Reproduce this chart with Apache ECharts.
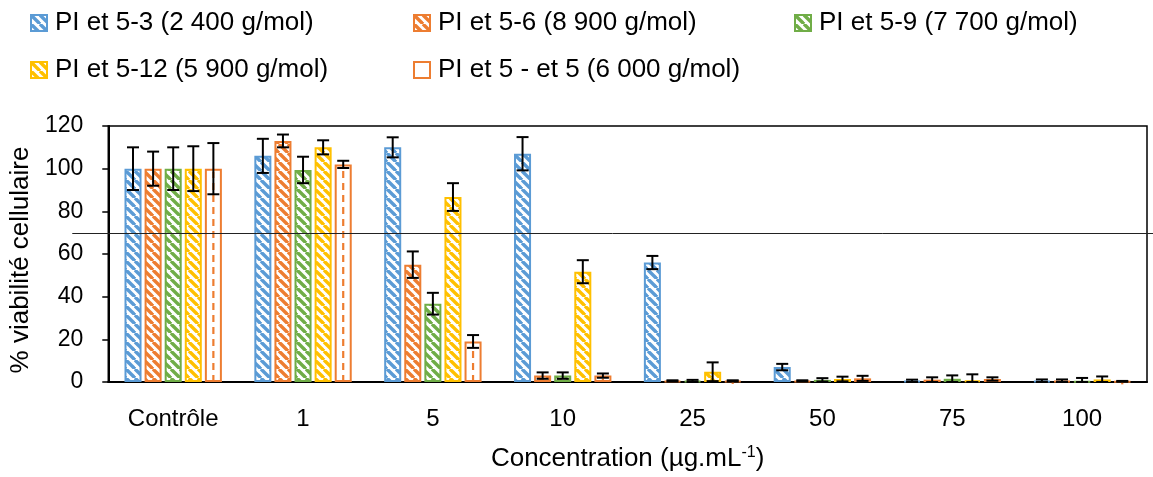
<!DOCTYPE html>
<html><head><meta charset="utf-8">
<script src="https://cdn.jsdelivr.net/npm/echarts@6/dist/echarts.min.js"></script>
<style>html,body{margin:0;padding:0;background:#fff}#c{width:1153px;height:477px}</style>
</head><body><div id="c"></div>
<script>
const categories = ['Contrôle', '1', '5', '10', '25', '50', '75', '100'];
const seriesNames = ['PI et 5-3 (2 400 g/mol)', 'PI et 5-6 (8 900 g/mol)', 'PI et 5-9 (7 700 g/mol)', 'PI et 5-12 (5 900 g/mol)', 'PI et 5 - et 5 (6 000 g/mol)'];
const v53 = [100, 106, 110, 107, 56, 7, 0.5, 0.5];
const e53 = [10, 8, 4.7, 7.8, 3.1, 1.5, 0.6, 0.7];
const v56 = [100, 113, 55, 3, 0.5, 0.5, 1.1, 0.5];
const e56 = [8, 3, 6.2, 1.5, 0.3, 0.3, 1.1, 0.7];
const v59 = [100, 99.4, 36.7, 3, 0.5, 1, 1.5, 0.3];
const e59 = [10, 6.2, 5.1, 1.5, 0.5, 0.8, 1.6, 1.6];
const v512 = [100, 110, 86.7, 51.7, 4.8, 1.4, 0.8, 1.2];
const e512 = [10.5, 3.3, 6.5, 5.4, 4.4, 1.1, 2.8, 1.4];
const v55 = [100, 102, 19, 3, 0.5, 1.7, 1.4, 0.3];
const e55 = [12, 1.7, 3, 1, 0.3, 1.2, 0.8, 0.2];
const threshold = [70];
const yTicks = [0, 20, 40, 60, 80, 100, 120];

const values = [v53, v56, v59, v512, v55];
const errors = [e53, e56, e59, e512, e55];
const colors = ['#5B9BD5', '#ED7D31', '#70AD47', '#FFC000', '#ED7D31'];
const FONT = 'Liberation Sans';
const CAT_GAP = 0.25, BAR_GAP = 0.18, N = 5;

function stripe(color) {
  const s = 9;
  const c = document.createElement('canvas');
  c.width = s; c.height = s;
  const g = c.getContext('2d');
  g.fillStyle = '#fff'; g.fillRect(0, 0, s, s);
  g.strokeStyle = color; g.lineWidth = 3.4;
  for (const x0 of [-s, 0, s]) {
    g.beginPath(); g.moveTo(x0, 0); g.lineTo(x0 + s, s); g.stroke();
  }
  return { image: c, repeat: 'repeat' };
}

const series = [];
values.forEach((vals, k) => {
  const dashed = k === 4;
  series.push({
    type: 'bar', name: seriesNames[k], data: vals,
    barCategoryGap: (CAT_GAP * 100) + '%', barGap: (BAR_GAP * 100) + '%',
    itemStyle: { color: dashed ? '#fff' : stripe(colors[k]), borderColor: colors[k], borderWidth: 2 },
    emphasis: { disabled: true }, z: 2
  });
});
values.forEach((vals, k) => {
  series.push({
    type: 'custom', data: vals.map((v, i) => [i, v, errors[k][i]]),
    encode: { x: 0, y: 1 }, z: 5, silent: true,
    renderItem: function (params, api) {
      const ci = api.value(0), v = api.value(1), e = api.value(2);
      const band = api.size([1, 0])[0];
      const groupW = band * (1 - CAT_GAP);
      const barW = groupW / (N + (N - 1) * BAR_GAP);
      const cx = api.coord([ci, 0])[0] - groupW / 2 + barW / 2 + k * barW * (1 + BAR_GAP);
      const yTop = api.coord([ci, v + e])[1];
      const yBot = api.coord([ci, Math.max(0, v - e)])[1];
      const cap = 6;
      const st = { stroke: '#000', lineWidth: 2 };
      const children = [];
      if (k === 4) {
        children.push({ type: 'line', shape: { x1: cx, y1: api.coord([ci, 0])[1], x2: cx, y2: api.coord([ci, v])[1] + 3 },
          style: { stroke: colors[4], lineWidth: 2.2, lineDash: [7, 5] } });
      }
      children.push({ type: 'line', shape: { x1: cx, y1: yTop, x2: cx, y2: yBot }, style: st });
      children.push({ type: 'line', shape: { x1: cx - cap, y1: yTop, x2: cx + cap, y2: yTop }, style: st });
      children.push({ type: 'line', shape: { x1: cx - cap, y1: yBot, x2: cx + cap, y2: yBot }, style: st });
      return { type: 'group', children: children };
    }
  });
});
series.push({
  type: 'custom', data: threshold.map(t => [0, t]), encode: { x: 0, y: 1 }, clip: false, z: 6, silent: true,
  renderItem: function (params, api) {
    const y = Math.round(api.coord([0, api.value(1)])[1]) + 0.5;
    return { type: 'line', shape: { x1: params.coordSys.x - 36, y1: y, x2: api.getWidth(), y2: y }, style: { stroke: '#222', lineWidth: 1 } };
  }
});

const legendPos = [[30, 9], [413, 9], [794, 9], [30, 56], [413, 56]];
const legends = seriesNames.map((n, k) => ({
  data: [n], left: legendPos[k][0], top: legendPos[k][1], padding: 0, icon: 'rect', itemWidth: 16, itemHeight: 16, itemGap: 0,
  textStyle: { fontFamily: FONT, fontSize: 26, lineHeight: 28, color: '#000', padding: [0, 0, 0, 3] }, selectedMode: false
}));

const chart = echarts.init(document.getElementById('c'), null, { renderer: 'canvas' });
chart.setOption({
  animation: false,
  legend: legends,
  grid: { left: 108, right: 6, top: 126, bottom: 94, show: true, borderColor: '#000', borderWidth: 1.5, containLabel: false },
  xAxis: {
    type: 'category', data: categories,
    axisLine: { lineStyle: { color: '#000', width: 2 } }, axisTick: { show: false },
    axisLabel: { fontFamily: FONT, fontSize: 24, color: '#000', margin: 25 },
    name: '{a|Concentration (µg.mL}{s|-1}{a|)}', nameLocation: 'middle', nameGap: 63,
    nameTextStyle: { rich: { a: { fontFamily: FONT, fontSize: 26, color: '#000' }, s: { fontFamily: FONT, fontSize: 16, color: '#000', verticalAlign: 'top', padding: [0, 0, 12, 0] } } }
  },
  yAxis: {
    type: 'value', min: yTicks[0], max: yTicks[yTicks.length - 1], interval: 20,
    axisLine: { show: true, lineStyle: { color: '#000', width: 2 } },
    axisTick: { show: true, length: 6, lineStyle: { color: '#000', width: 1.5 } },
    splitLine: { show: false },
    axisLabel: { fontFamily: FONT, fontSize: 23, color: '#000', margin: 25 },
    name: '% viabilité cellulaire', nameLocation: 'middle', nameGap: 73, nameRotate: 90,
    nameTextStyle: { fontFamily: FONT, fontSize: 26, color: '#000', padding: [0, 12, 0, 0] }
  },
  series: series
});
</script></body></html>
